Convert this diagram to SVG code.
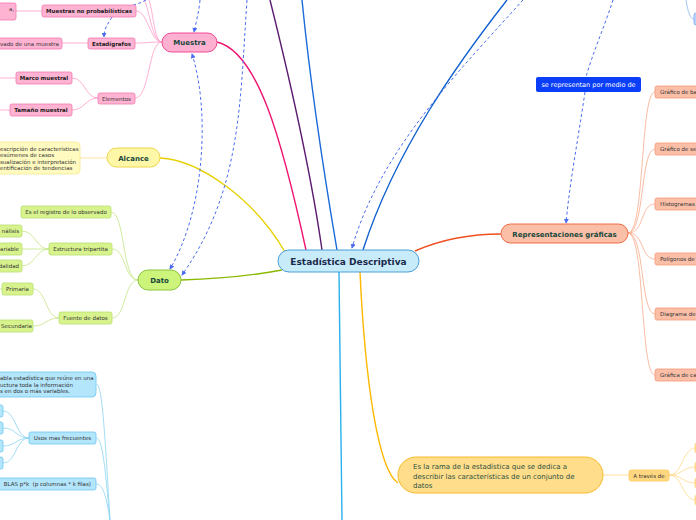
<svg xmlns="http://www.w3.org/2000/svg" width="696" height="520" viewBox="0 0 696 520">
<defs>
<style>
text{font-family:"DejaVu Sans","Verdana",sans-serif}
.t{font-size:7px;font-weight:bold;fill:#17473b;text-anchor:middle}
.s{font-size:5.5px;fill:#333;text-anchor:middle}
.sb{font-size:5.5px;font-weight:bold;fill:#1a1a1a;text-anchor:middle}
.sl{font-size:5.5px;fill:#333}
.dash{fill:none;stroke:#4a6cf0;stroke-width:1;stroke-dasharray:3 2.5}
.pk{fill:#ffb3d3;stroke:#f07ab0;stroke-width:0.8}
.gr{fill:#d8f38e;stroke:#b8e070;stroke-width:0.8}
.cy{fill:#b3e5fb;stroke:#6cc8f2;stroke-width:0.8}
.or{fill:#fbbfa8;stroke:#f59a78;stroke-width:0.8}
.lp{fill:none;stroke:#ff9cc8;stroke-width:0.8}
.lg{fill:none;stroke:#c4e484;stroke-width:0.8}
.lc{fill:none;stroke:#8cd4f4;stroke-width:0.8}
.lo{fill:none;stroke:#f9aa8c;stroke-width:0.8}
.ly{fill:none;stroke:#ffd98a;stroke-width:0.8}
</style>
<marker id="ar" viewBox="0 0 6 6" refX="5" refY="3" markerWidth="5" markerHeight="5" orient="auto-start-reverse">
<path d="M0,0 L6,3 L0,6 z" fill="#4a6cf0"/>
</marker>
</defs>
<rect width="696" height="520" fill="#fff"/>

<g id="connectors">
<!-- main branches -->
<path d="M217,42 C258,52 282,140 306,250" fill="none" stroke="#ee1570" stroke-width="1.4"/>
<path d="M270,0 C290,80 312,180 322,250" fill="none" stroke="#5a1a6e" stroke-width="1.4"/>
<path d="M302,0 C310,80 325,180 337,250" fill="none" stroke="#1a6ad8" stroke-width="1.4"/>
<path d="M507,0 C460,60 395,150 363,250" fill="none" stroke="#1060d0" stroke-width="1.4"/>
<path d="M160,158 C200,160 255,200 285,252" fill="none" stroke="#e8d000" stroke-width="1.4"/>
<path d="M181,280 C220,279 255,275 282,270" fill="none" stroke="#88b800" stroke-width="1.4"/>
<path d="M415,251 C440,240 470,234 501,234" fill="none" stroke="#f05020" stroke-width="1.4"/>
<path d="M339,272 C340,350 341,450 342,520" fill="none" stroke="#2ab0ee" stroke-width="1.4"/>
<path d="M360,272 C365,380 378,470 398,483" fill="none" stroke="#ffb800" stroke-width="1.4"/>
<!-- Muestra children -->
<path class="lp" d="M162,42 C150,42 148,11 136,11"/>
<path class="lp" d="M162,42 C150,42 148,43 135,43"/>
<path class="lp" d="M162,42 C148,42 150,98 135,98"/>
<path class="lp" d="M162,42 C152,42 150,10 144,0"/>
<path class="lp" d="M162,42 C154,42 153,10 149,0"/>
<path class="lp" d="M88,43 L62,43"/>
<path class="lp" d="M42,11 L16,11"/>
<path class="lp" d="M98,98 C85,98 85,78 72,78"/>
<path class="lp" d="M98,98 C85,98 85,110 72,110"/>
<path class="lp" d="M16,78 L0,78"/>
<path class="lp" d="M10,110 L0,110"/>
<!-- Alcance -->
<path class="ly" d="M80,158 L107,158" stroke="#fbe98a"/>
<!-- Dato children -->
<path class="lg" d="M138,280 C122,280 125,212 111,212"/>
<path class="lg" d="M138,280 C124,280 126,249 112,249"/>
<path class="lg" d="M138,280 C124,280 126,318 112,318"/>
<path class="lg" d="M49,249 C36,249 35,231 22,231"/>
<path class="lg" d="M49,249 L22,249"/>
<path class="lg" d="M49,249 C36,249 35,266 22,266"/>
<path class="lg" d="M59,318 C46,318 46,289 33,289"/>
<path class="lg" d="M59,318 C46,318 46,326 33,326"/>
<path class="lg" d="M2,289 L0,289"/>
<!-- cyan -->
<path class="lc" d="M96,384 C102,384 104,420 110,520"/>
<path class="lc" d="M96,438 C103,438 105,470 110,520"/>
<path class="lc" d="M96,484 C103,484 106,495 110,520"/>
<path class="lc" d="M29,438 C16,438 16,411 3,411"/>
<path class="lc" d="M29,438 C16,438 16,428 3,428"/>
<path class="lc" d="M29,438 C16,438 16,446 3,446"/>
<path class="lc" d="M29,438 C16,438 16,463 3,463"/>
<!-- Rep children -->
<path class="lo" d="M628,233 C645,233 640,92 655,92"/>
<path class="lo" d="M628,233 C645,233 640,149 655,149"/>
<path class="lo" d="M628,233 C645,233 640,204 655,204"/>
<path class="lo" d="M628,233 C645,233 640,259 655,259"/>
<path class="lo" d="M628,233 C645,233 640,314 655,314"/>
<path class="lo" d="M628,233 C645,233 640,375 655,375"/>
<!-- Es la rama -->
<path class="ly" d="M603,475 L629,475"/>
<path class="ly" d="M669,475 C683,475 682,448 696,448"/>
<path class="ly" d="M669,475 C683,475 682,467 696,467"/>
<path class="ly" d="M669,475 C683,475 682,483 696,483"/>
<path class="ly" d="M669,475 C683,475 682,500 696,500"/>
<!-- top right -->
<path d="M686,0 C688,12 690,19 694,19" fill="none" stroke="#8ab4f0" stroke-width="0.8"/>
<!-- dashed relations -->
<path class="dash" d="M112,17 C108,24 104,28 104,37" marker-end="url(#ar)"/>
<path class="dash" d="M146,0 C141,3 136,4 131,6"/>
<path class="dash" d="M200,0 C199,12 196,22 194,32" marker-end="url(#ar)"/>
<path class="dash" d="M192,54 C210,110 205,210 170,269" marker-start="url(#ar)" marker-end="url(#ar)"/>
<path class="dash" d="M247,0 C240,100 242,190 182,275" marker-end="url(#ar)"/>
<path class="dash" d="M523,0 C460,70 380,150 352,248" marker-end="url(#ar)"/>
<path class="dash" d="M613,0 C605,25 592,55 586,77"/>
<path class="dash" d="M585,92 C578,140 570,180 566,223" marker-end="url(#ar)"/>
</g>

<g id="central">
<rect x="278" y="250" width="141" height="22" rx="11" fill="#c8ebfa" stroke="#4a9ed6" stroke-width="1"/>
<text x="348.5" y="264.5" text-anchor="middle" font-size="9" font-weight="bold" fill="#1a2a4a">Estadística Descriptiva</text>
</g>

<g id="muestra">
<rect x="162" y="33" width="55" height="19" rx="9.5" fill="#fdb0d0" stroke="#ee4b94" stroke-width="1"/>
<text class="t" x="189.5" y="45">Muestra</text>
</g>
<g id="m-noprob"><rect class="pk" x="42" y="5" width="94" height="12" rx="2"/><text class="sb" x="89" y="13.2">Muestras no probabilísticas</text></g>
<g id="m-left1"><rect class="pk" x="-5" y="3" width="21" height="17" rx="2"/><text class="sl" x="14" y="11" text-anchor="end">a,</text></g>
<g id="m-estad"><rect class="pk" x="88" y="38" width="47" height="11" rx="2"/><text class="sb" x="111.5" y="45.5">Estadígrafos</text></g>
<g id="m-left2"><rect class="pk" x="-5" y="38" width="67" height="11" rx="2"/><text class="sl" x="0" y="45.5">vado de una muestra</text></g>
<g id="m-elem"><rect class="pk" x="98" y="93" width="37" height="11" rx="2"/><text class="s" x="116.5" y="100.5">Elementos</text></g>
<g id="m-marco"><rect class="pk" x="16" y="72" width="56" height="12" rx="2"/><text class="sb" x="44" y="80">Marco muestral</text></g>
<g id="m-tam"><rect class="pk" x="10" y="104" width="62" height="12" rx="2"/><text class="sb" x="41" y="112">Tamaño muestral</text></g>

<g id="alcance">
<rect x="107" y="148" width="53" height="19" rx="9.5" fill="#fff7a8" stroke="#eed64a" stroke-width="1"/>
<text class="t" x="133.5" y="160.5">Alcance</text>
</g>
<g id="a-desc">
<rect x="-5" y="142" width="85" height="32" rx="4" fill="#fffbc0" stroke="#f6e890" stroke-width="0.8"/>
<text class="sl" x="0" y="150.5">escripción de características</text>
<text class="sl" x="0" y="157">esúmenes de casos</text>
<text class="sl" x="0" y="163.5">sualización e interpretación</text>
<text class="sl" x="0" y="170">entificación de tendencias</text>
</g>

<g id="dato">
<rect x="138" y="270" width="43" height="20" rx="10" fill="#ccf37a" stroke="#8cc43c" stroke-width="1"/>
<text class="t" x="159.5" y="282.5">Dato</text>
</g>
<g id="d-reg"><rect class="gr" x="21" y="206" width="90" height="12" rx="2"/><text class="s" x="66" y="214">Es el registro de lo observado</text></g>
<g id="d-est"><rect class="gr" x="49" y="243" width="63" height="12" rx="2"/><text class="s" x="80.5" y="251">Estructura tripartita</text></g>
<g id="d-fue"><rect class="gr" x="59" y="312" width="53" height="12" rx="2"/><text class="s" x="85.5" y="320">Fuente de datos</text></g>
<g id="d-an"><rect class="gr" x="-5" y="225" width="27" height="12" rx="2"/><text class="sl" x="19" y="233" text-anchor="end">nálisis</text></g>
<g id="d-var"><rect class="gr" x="-5" y="243" width="27" height="12" rx="2"/><text class="sl" x="19" y="251" text-anchor="end">ariable</text></g>
<g id="d-mod"><rect class="gr" x="-5" y="260" width="27" height="12" rx="2"/><text class="sl" x="19" y="268" text-anchor="end">dalidad</text></g>
<g id="d-pri"><rect class="gr" x="2" y="283" width="31" height="12" rx="2"/><text class="s" x="17.5" y="291">Primaria</text></g>
<g id="d-sec"><rect class="gr" x="-5" y="320" width="38" height="12" rx="2"/><text class="s" x="16.5" y="328">Secundaria</text></g>

<g id="c-tabla">
<rect class="cy" x="-5" y="372" width="101" height="25" rx="4"/>
<text class="sl" x="0" y="380">abla estadística que reúne en una</text>
<text class="sl" x="0" y="386.5">uctura toda la información</text>
<text class="sl" x="0" y="393">s en dos o más variables.</text>
</g>
<g id="c-usos"><rect class="cy" x="29" y="432" width="67" height="12" rx="2"/><text class="s" x="62.5" y="440">Usos mas frecuentes</text></g>
<g id="c-u1"><rect class="cy" x="-5" y="405" width="8" height="12" rx="2"/></g>
<g id="c-u2"><rect class="cy" x="-5" y="422" width="8" height="12" rx="2"/></g>
<g id="c-u3"><rect class="cy" x="-5" y="440" width="8" height="12" rx="2"/></g>
<g id="c-u4"><rect class="cy" x="-5" y="457" width="8" height="12" rx="2"/></g>
<g id="c-pk"><rect class="cy" x="-5" y="478" width="101" height="12" rx="2"/><text class="sl" x="91" y="486" text-anchor="end" xml:space="preserve">BLAS p*k  (p columnas * k filas)</text></g>

<g id="se-representan">
<rect x="536" y="77" width="105" height="15" rx="2" fill="#0b3ef8"/>
<text x="588.5" y="87" text-anchor="middle" font-size="6.5" fill="#fff">se representan por medio de</text>
</g>

<g id="rep">
<rect x="501" y="224" width="127" height="19" rx="9.5" fill="#fbbfa8" stroke="#f06c45" stroke-width="1"/>
<text class="t" x="564.5" y="236.5">Representaciones gráficas</text>
</g>
<g id="r1"><rect class="or" x="655" y="86" width="50" height="12" rx="2"/><text class="sl" x="660" y="94">Gráfico de ba</text></g>
<g id="r2"><rect class="or" x="655" y="143" width="50" height="12" rx="2"/><text class="sl" x="660" y="151">Gráfico de se</text></g>
<g id="r3"><rect class="or" x="655" y="198" width="50" height="12" rx="2"/><text class="sl" x="660" y="206">Histogramas</text></g>
<g id="r4"><rect class="or" x="655" y="253" width="50" height="12" rx="2"/><text class="sl" x="660" y="261">Polígonos de</text></g>
<g id="r5"><rect class="or" x="655" y="308" width="50" height="12" rx="2"/><text class="sl" x="660" y="316">Diagrama de</text></g>
<g id="r6"><rect class="or" x="655" y="369" width="50" height="12" rx="2"/><text class="sl" x="660" y="377">Gráfica de ca</text></g>

<g id="def">
<rect x="398" y="457" width="205" height="36" rx="18" fill="#ffdd8a" stroke="#f7bb2a" stroke-width="1"/>
<text x="413" y="469" font-size="7" fill="#2a5040">Es la rama de la estadística que se dedica a</text>
<text x="413" y="478.5" font-size="7" fill="#2a5040">describir las características de un conjunto de</text>
<text x="413" y="488" font-size="7" fill="#2a5040">datos</text>
</g>
<g id="atraves"><rect x="629" y="470" width="40" height="11" rx="2" fill="#ffd780" stroke="#ffcc60" stroke-width="0.8"/><text class="s" x="649" y="477.5">A través de</text></g>
<g id="at1"><rect x="695" y="443" width="8" height="10" rx="2" fill="#ffe09a" stroke="#ffd070" stroke-width="0.8"/></g>
<g id="at2"><rect x="695" y="462" width="8" height="10" rx="2" fill="#ffe09a" stroke="#ffd070" stroke-width="0.8"/></g>
<g id="at3"><rect x="695" y="478" width="8" height="10" rx="2" fill="#ffe09a" stroke="#ffd070" stroke-width="0.8"/></g>
<g id="at4"><rect x="695" y="495" width="8" height="10" rx="2" fill="#ffe09a" stroke="#ffd070" stroke-width="0.8"/></g>

<g id="tr-node"><rect x="694" y="13" width="8" height="12" rx="2" fill="#b8d4fa" stroke="#7aaaf0" stroke-width="0.8"/></g>
</svg>
